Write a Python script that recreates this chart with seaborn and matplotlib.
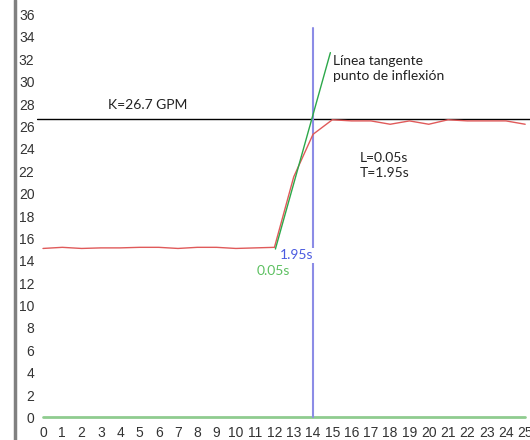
import numpy as np
import pandas as pd
import seaborn as sns
import matplotlib.pyplot as plt
from matplotlib.lines import Line2D

# datos
tiempo = list(range(26))
caudal = [15.1, 15.2, 15.1, 15.15, 15.15, 15.2, 15.2, 15.1, 15.2, 15.2, 15.1, 15.15, 15.2,
          21.5, 25.3, 26.6, 26.5, 26.5, 26.2, 26.5, 26.2, 26.6, 26.5, 26.5, 26.5, 26.2]
base = [0] * 26
K = 26.7
tangente_x = [12.05, 14.9]
tangente_y = [15.05, 32.6]
t_inflexion = 14
y_ticks = list(range(0, 37, 2))
x_ticks = list(range(0, 26))

df = pd.DataFrame({"t": tiempo, "caudal": caudal, "base": base})

sns.set_style("white")
plt.rcParams['font.family'] = ['Liberation Sans', 'DejaVu Sans']

fig = plt.figure(figsize=(5.3, 4.4), dpi=100)
ax = fig.add_axes([37.2 / 530, (440 - 423.0) / 440, (530 - 37.2) / 530, (423.0 - 14.6) / 440])

sns.lineplot(data=df, x="t", y="base", color="#8fcc8f", linewidth=2, ax=ax)
ax.axhline(K, xmin=0, xmax=1, color="black", linewidth=1)
ax.plot([t_inflexion, t_inflexion], [0, 34.8], color="#8c8ce6", linewidth=1.5)
sns.lineplot(data=df, x="t", y="caudal", color="#e05a5a", linewidth=1, ax=ax)
ax.plot(tangente_x, tangente_y, color="#2ca84a", linewidth=1)

ax.set_xlim(-0.3, 25.25)
ax.set_ylim(-0.5, 36)
ax.set_xticks(x_ticks)
ax.set_yticks(y_ticks)
ax.tick_params(axis="both", length=0, labelsize=10, labelcolor="#333333", pad=2)
ax.set_xlabel("")
ax.set_ylabel("")
for s in ax.spines.values():
    s.set_visible(False)

fnt = ['Lato', 'DejaVu Sans']
ax.text(3.37, 27.9, "K=26.7 GPM", fontsize=10, family=fnt, color="#222222", va="center")
ax.text(15.03, 31.2, "Línea tangente\npunto de inflexión", fontsize=10, family=fnt,
        color="#222222", va="center", linespacing=1.35)
ax.text(16.4, 22.55, "L=0.05s\nT=1.95s", fontsize=10, family=fnt, color="#222222",
        va="center", linespacing=1.3)
ax.text(12.3, 14.5, "1.95s", fontsize=10, family=fnt, color="#4a5ae0", va="center",
        bbox=dict(facecolor="white", edgecolor="none", pad=1))
ax.text(11.1, 13.1, "0.05s", fontsize=10, family=fnt, color="#5cc060", va="center")

# barra gris a la izquierda
fig.add_artist(Line2D([14.5 / 530, 14.5 / 530], [0, 1], color="#808080", linewidth=2.5,
                      transform=fig.transFigure))

fig.savefig("out.png", dpi=100)
